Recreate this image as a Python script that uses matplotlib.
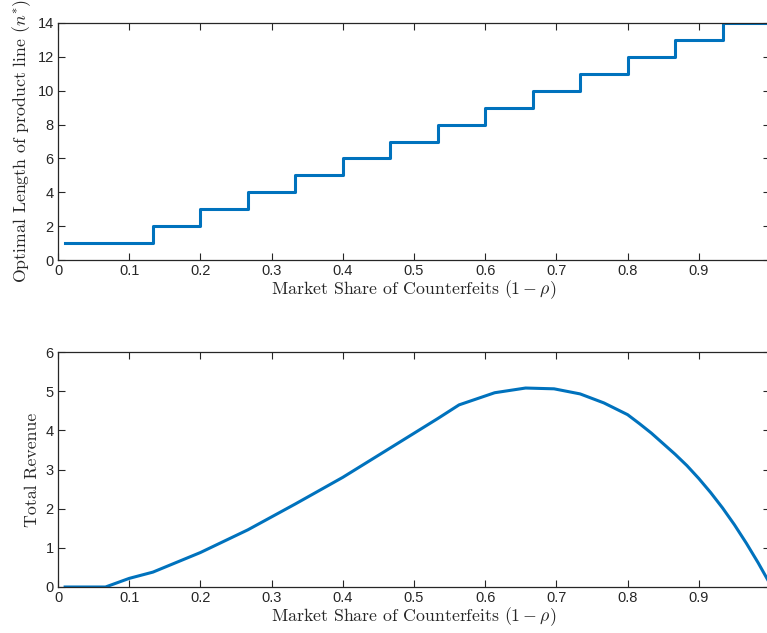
import numpy as np
import matplotlib
matplotlib.use("Agg")
import matplotlib.pyplot as plt

# top panel: optimal product line length (step function)
step_edges = [0.01, 2/15, 3/15, 4/15, 5/15, 6/15, 7/15, 8/15, 9/15, 10/15,
              11/15, 12/15, 13/15, 14/15, 1.0]
n_star = [1, 2, 3, 4, 5, 6, 7, 8, 9, 10, 11, 12, 13, 14, 14]

# bottom panel: total revenue
rev_x = [0.01, 0.0667, 0.1, 0.1333, 0.2, 0.2667, 0.3333, 0.4, 0.4667, 0.5333,
         0.5633, 0.6133, 0.6567, 0.6967, 0.7333, 0.7667, 0.8, 0.8167, 0.8333,
         0.85, 0.8667, 0.8833, 0.9, 0.9167, 0.9333, 0.95, 0.9667, 0.9833, 1.0]
rev_y = [0, 0, 0.22, 0.38, 0.88, 1.46, 2.12, 2.80, 3.55, 4.30,
         4.65, 4.96, 5.08, 5.06, 4.93, 4.70, 4.40, 4.17, 3.93,
         3.66, 3.39, 3.10, 2.77, 2.41, 2.02, 1.59, 1.12, 0.62, 0.08]

xticks = [0, 0.1, 0.2, 0.3, 0.4, 0.5, 0.6, 0.7, 0.8, 0.9]
xticklabels = ['0', '0.1', '0.2', '0.3', '0.4', '0.5', '0.6', '0.7', '0.8', '0.9']

plt.rcParams['mathtext.fontset'] = 'cm'
plt.rcParams['font.family'] = ['Liberation Sans', 'DejaVu Sans']
plt.rcParams['axes.formatter.use_mathtext'] = False

blue = '#0072BD'
dark = '#262626'
lab = dict(family='cmr10', size=12.8, color=dark)

fig = plt.figure(figsize=(7.67, 6.33), dpi=100)
# right edge of the axes box falls just past the picture, as in the original
ax1 = fig.add_axes([58/767, 1-260/633, 712/767, 237/633])
ax2 = fig.add_axes([58/767, 1-587/633, 712/767, 235/633])

ax1.step(step_edges, n_star, where='post', color=blue, lw=2.2)
ax1.set_ylim(0, 14)
ax1.set_yticks(range(0, 15, 2))
ax1.set_ylabel(r'Optimal Length of product line $(n^{*})$', labelpad=3, **lab)

ax2.plot(rev_x, rev_y, color=blue, lw=2.2)
ax2.set_ylim(0, 6)
ax2.set_yticks(range(0, 7))
ax2.set_ylabel('Total Revenue', labelpad=4, **lab)

for ax in (ax1, ax2):
    ax.set_xlim(0, 1)
    ax.set_xticks(xticks)
    ax.set_xticklabels(xticklabels)
    ax.set_xlabel(r'Market Share of Counterfeits $(1-\rho)$', labelpad=0, **lab)
    ax.tick_params(direction='in', top=True, right=True, length=5,
                   width=0.8, colors=dark, labelsize=10.5, pad=3)
    for s in ax.spines.values():
        s.set_color(dark)
        s.set_linewidth(0.9)

fig.savefig('out.png', dpi=100)
